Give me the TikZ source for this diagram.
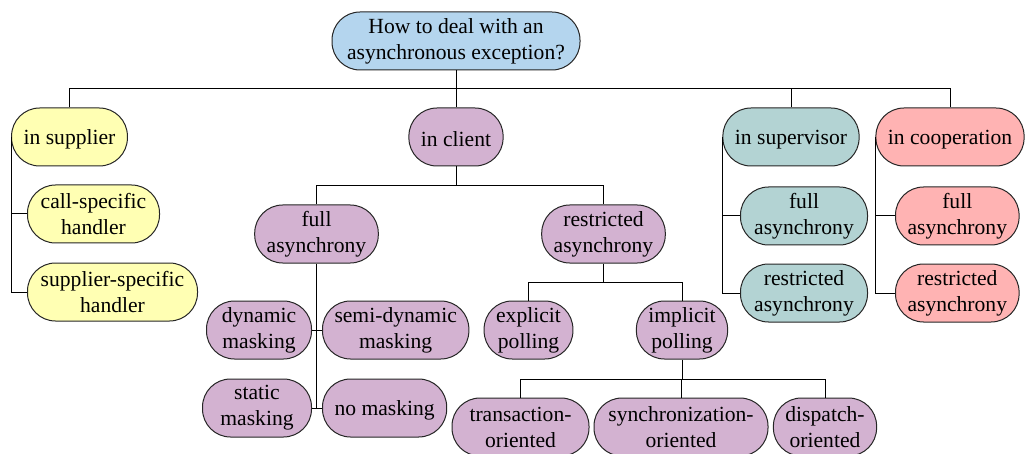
\documentclass[tikz,border=0pt]{standalone}
\usepackage{fontspec}
\setmainfont{Liberation Serif}
\definecolor{azzurro}{RGB}{180,213,238}
\definecolor{giallo}{RGB}{255,255,179}
\definecolor{lilla}{RGB}{211,178,209}
\definecolor{verdeacqua}{RGB}{179,211,211}
\definecolor{rosa}{RGB}{255,179,179}
\tikzset{
  box/.style={draw=black!85, line width=0.5pt, rounded corners=14pt,
    minimum height=29pt, inner xsep=6pt, inner ysep=2pt, align=center,
    execute at begin node={\rule{0pt}{9.8pt}}},
  linea/.style={draw=black, line width=0.5pt}
}
\begin{document}
\begin{tikzpicture}[x=0.5pt,y=-0.5pt,font=\fontsize{10.8}{13}\selectfont]
        \useasboundingbox (0,0) rectangle (1027,454);
        %radice
        \node[box,fill=azzurro,minimum width=124pt] (root) at (456,41) {How to deal with an\\asynchronous exception?};
        %primo livello
        \node[box,fill=giallo] (supplier) at (69.5,137) {in supplier};
        \node[box,fill=lilla] (client) at (456,137) {in client};
        \node[box,fill=verdeacqua] (supervisor) at (791,137) {in supervisor};
        \node[box,fill=rosa] (coop) at (950,137) {in cooperation};
        %ramo supplier
        \node[box,fill=giallo,anchor=west,minimum width=66pt] (callH) at (27,214) {call-specific\\handler};
        \node[box,fill=giallo,anchor=west,minimum width=85pt] (suppH) at (27,292) {supplier-specific\\handler};
        %ramo client
        \node[box,fill=lilla] (fullC) at (316.5,234) {full\\asynchrony};
        \node[box,fill=lilla] (restrC) at (603.5,234) {restricted\\asynchrony};
        \node[box,fill=lilla,anchor=east,minimum width=52.5pt] (dynM) at (312,330) {dynamic\\masking};
        \node[box,fill=lilla,anchor=west] (semiM) at (322,330) {semi-dynamic\\masking};
        \node[box,fill=lilla,anchor=east,minimum width=54.5pt] (staticM) at (312,408) {static\\masking};
        \node[box,fill=lilla,anchor=west] (noM) at (322,408) {no masking};
        \node[box,fill=lilla] (explicitP) at (528.5,330) {explicit\\polling};
        \node[box,fill=lilla] (implicitP) at (682,330) {implicit\\polling};
        \node[box,fill=lilla,minimum width=68.5pt] (transO) at (520.5,427) {transaction-\\oriented};
        \node[box,fill=lilla,minimum width=87pt] (syncO) at (681,427) {synchronization-\\oriented};
        \node[box,fill=lilla] (dispO) at (825,427) {dispatch-\\oriented};
        %ramo supervisor
        \node[box,fill=verdeacqua,anchor=west,minimum width=63.5pt] (fullS) at (740,216) {full\\asynchrony};
        \node[box,fill=verdeacqua,anchor=west,minimum width=63.5pt] (restrS) at (740,293) {restricted\\asynchrony};
        %ramo cooperation
        \node[box,fill=rosa,anchor=west] (fullCo) at (895,216) {full\\asynchrony};
        \node[box,fill=rosa,anchor=west] (restrCo) at (895,293) {restricted\\asynchrony};
        %punti delle sbarre
        \coordinate (bus1) at (456,89);
        \coordinate (bus2) at (456,186);
        \coordinate (bus3) at (603.5,282);
        \coordinate (bus4) at (682,379);
        %collegamenti
        \draw[linea] (root.south) -- (bus1);
        \draw[linea] (supplier.north) |- (bus1);
        \draw[linea] (client.north) -- (bus1);
        \draw[linea] (supervisor.north) |- (bus1);
        \draw[linea] (coop.north) |- (bus1);
        \draw[linea] (supplier.west) |- (callH.west);
        \draw[linea] (supplier.west) |- (suppH.west);
        \draw[linea] (client.south) -- (bus2);
        \draw[linea] (fullC.north) |- (bus2);
        \draw[linea] (restrC.north) |- (bus2);
        \draw[linea] (fullC.south) -- (fullC |- staticM);
        \draw[linea] (dynM.east) -- (semiM.west);
        \draw[linea] (staticM.east) -- (noM.west);
        \draw[linea] (restrC.south) -- (bus3);
        \draw[linea] (explicitP.north) |- (bus3);
        \draw[linea] (implicitP.north) |- (bus3);
        \draw[linea] (implicitP.south) -- (bus4);
        \draw[linea] (transO.north) |- (bus4);
        \draw[linea] (syncO.north) |- (bus4);
        \draw[linea] (dispO.north) |- (bus4);
        \draw[linea] (supervisor.west) |- (fullS.west);
        \draw[linea] (supervisor.west) |- (restrS.west);
        \draw[linea] (coop.west) |- (fullCo.west);
        \draw[linea] (coop.west) |- (restrCo.west);
\end{tikzpicture}
\end{document}
